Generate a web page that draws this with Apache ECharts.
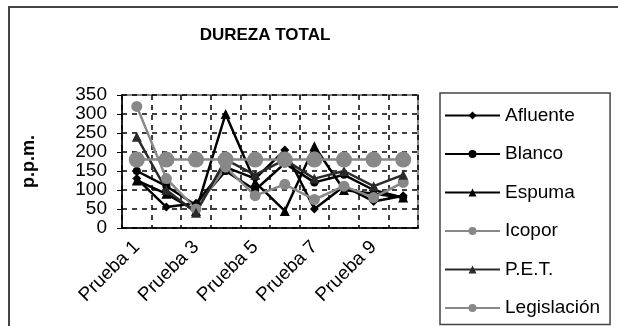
<!DOCTYPE html>
<html><head><meta charset="utf-8">
<script src="https://cdn.jsdelivr.net/npm/echarts@6/dist/echarts.min.js"></script>
<style>html,body{margin:0;padding:0;background:#fff}#c{width:618px;height:326px}</style>
</head><body><div id="c"></div>
<script>
const categories = ['Prueba 1','Prueba 2','Prueba 3','Prueba 4','Prueba 5','Prueba 6','Prueba 7','Prueba 8','Prueba 9','Prueba 10'];
const afluente    = [130, 55, 65, 160, 130, 205, 50, 110, 70, 85];
const blanco      = [150, 110, 60, 150, 100, 170, 120, 140, 100, 80];
const espuma      = [125, 90, 45, 300, 120, 45, 215, 100, 90, 80];
const icopor      = [320, 130, 50, 160, 85, 115, 75, 110, 80, 120];
const pet         = [240, 100, 40, 180, 140, 180, 130, 150, 110, 140];
const legislacion = [180, 180, 180, 180, 180, 180, 180, 180, 180, 180];
const yTicks = [0, 50, 100, 150, 200, 250, 300, 350];

const font = 'Liberation Sans, Arial, sans-serif';
function s(name, data, color, symbol, size) {
  return { name, type: 'line', data, symbol, symbolSize: size,
    lineStyle: { color, width: 2.5 }, itemStyle: { color },
    emphasis: { disabled: true }, animation: false };
}
const chart = echarts.init(document.getElementById('c'));
chart.setOption({
  animation: false,
  title: { text: 'DUREZA TOTAL', left: 260, top: 22, textAlign: 'center',
    textStyle: { fontFamily: font, fontSize: 17, fontWeight: 'bold', color: '#000' } },
  graphic: [{ type: 'rect', shape: { x: 9, y: 7, width: 620, height: 330 },
    style: { fill: 'none', stroke: '#444', lineWidth: 2 } }],
  grid: { left: 122, right: 200, top: 95, bottom: 98, show: true, borderColor: '#888', borderWidth: 2 },
  legend: { orient: 'vertical', left: 440, top: 93, itemWidth: 55, itemHeight: 10, itemGap: 19.5,
    padding: [13, 10, 7, 4], borderColor: '#444', borderWidth: 1.5,
    textStyle: { fontFamily: font, fontSize: 19, lineHeight: 18, color: '#000' },
    data: ['Afluente','Blanco','Espuma','Icopor','P.E.T.','Legislación'] },
  xAxis: { type: 'category', data: categories, boundaryGap: true,
    axisLine: { lineStyle: { color: '#000', width: 1.5 } },
    axisTick: { interval: 0, length: 5, lineStyle: { color: '#000' } },
    axisLabel: { interval: 1, rotate: 45, fontFamily: font, fontSize: 19, color: '#000', margin: 16 },
    splitLine: { show: true, interval: 0, lineStyle: { color: '#000', type: [5, 5], width: 1.5 } } },
  yAxis: { type: 'value', min: yTicks[0], max: yTicks[yTicks.length - 1], interval: 50,
    name: 'p.p.m.', nameLocation: 'middle', nameGap: 84, nameRotate: 90,
    nameTextStyle: { fontFamily: font, fontSize: 18, fontWeight: 'bold', color: '#000' },
    axisLine: { show: true, lineStyle: { color: '#000', width: 1.5 } },
    axisTick: { show: true, length: 5, lineStyle: { color: '#000' } },
    axisLabel: { fontFamily: font, fontSize: 19, lineHeight: 16, color: '#000', margin: 15 },
    splitLine: { lineStyle: { color: '#000', type: [5, 5], width: 1.5 } } },
  series: [
    s('Afluente', afluente, '#000', 'diamond', 9),
    s('Blanco', blanco, '#000', 'circle', 8),
    s('Espuma', espuma, '#000', 'triangle', 10),
    s('Icopor', icopor, '#888', 'circle', 11),
    s('P.E.T.', pet, '#2a2a2a', 'triangle', 10),
    s('Legislación', legislacion, '#888', 'circle', 16)
  ]
});
</script></body></html>
